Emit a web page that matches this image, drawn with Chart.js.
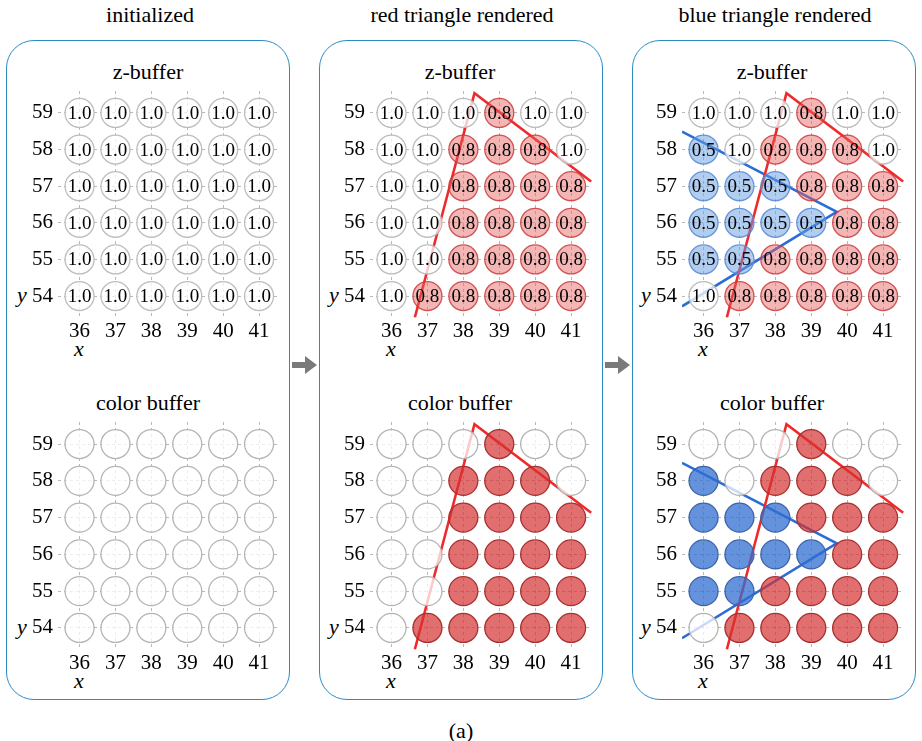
<!DOCTYPE html>
<html>
<head>
<meta charset="utf-8">
<script src="https://cdn.jsdelivr.net/npm/chart.js@4.4.1/dist/chart.umd.min.js"></script>
<style>
body{
    margin:0;
    background:#fff;
    width:922px;
    height:741px;
    overflow:hidden;
    position:relative;
    font-family:"Liberation Serif", "Times New Roman", serif;
    color:#000;
}
.box{
    position:absolute;
    top:40px;
    width:284px;
    height:660px;
    border:1.6px solid #2b8cc4;
    border-radius:28px;
    box-sizing:border-box;
}
.lbl{
    position:absolute;
    transform:translate(-50%,-50%);
    font-size:22px;
    white-space:nowrap;
    line-height:1;
}
.it{ font-style:italic; }
.plot{ position:absolute; }
svg{ position:absolute; left:0; top:0; }
</style>
</head>
<body>

<svg width="922" height="741">
    <polygon points="292,362 305,362 305,356 317,365 305,374 305,368 292,368" fill="#7a7a7a"/>
    <polygon points="605,362 618,362 618,356 630,365 618,374 618,368 605,368" fill="#7a7a7a"/>
</svg>

<script>

/* DATA */

const xVals = [36, 37, 38, 39, 40, 41];
const yVals = [59, 58, 57, 56, 55, 54];

// z-buffer, rows from y=59 down to y=54
const zInit = [
    [1.0, 1.0, 1.0, 1.0, 1.0, 1.0],
    [1.0, 1.0, 1.0, 1.0, 1.0, 1.0],
    [1.0, 1.0, 1.0, 1.0, 1.0, 1.0],
    [1.0, 1.0, 1.0, 1.0, 1.0, 1.0],
    [1.0, 1.0, 1.0, 1.0, 1.0, 1.0],
    [1.0, 1.0, 1.0, 1.0, 1.0, 1.0]
];

const zRed = [
    [1.0, 1.0, 1.0, 0.8, 1.0, 1.0],
    [1.0, 1.0, 0.8, 0.8, 0.8, 1.0],
    [1.0, 1.0, 0.8, 0.8, 0.8, 0.8],
    [1.0, 1.0, 0.8, 0.8, 0.8, 0.8],
    [1.0, 1.0, 0.8, 0.8, 0.8, 0.8],
    [1.0, 0.8, 0.8, 0.8, 0.8, 0.8]
];

const zBlue = [
    [1.0, 1.0, 1.0, 0.8, 1.0, 1.0],
    [0.5, 1.0, 0.8, 0.8, 0.8, 1.0],
    [0.5, 0.5, 0.5, 0.8, 0.8, 0.8],
    [0.5, 0.5, 0.5, 0.5, 0.8, 0.8],
    [0.5, 0.5, 0.8, 0.8, 0.8, 0.8],
    [1.0, 0.8, 0.8, 0.8, 0.8, 0.8]
];

// triangle edges (only the visible part)
const redEdgeX = [36.65, 38.31, 41.56];
const redEdgeY = [53.42, 59.54, 57.13];
const blueEdgeX = [35.40, 39.71, 35.40];
const blueEdgeY = [58.49, 56.30, 53.72];

const panelTitles = ["initialized", "red triangle rendered", "blue triangle rendered"];

/* STYLES */

const xMin = 35.4, xMax = 41.6;
const yMin = 53.4, yMax = 59.6;

const serif = "'Liberation Serif', 'Times New Roman', serif";

const fills = {
    zbuf: {1: "rgba(255,255,255,0.75)", 0.8: "rgba(230,90,90,0.45)", 0.5: "rgba(100,155,225,0.5)"},
    color: {1: "rgba(255,255,255,0.75)", 0.8: "rgba(214,50,50,0.7)", 0.5: "rgba(50,110,210,0.75)"}
};

const borders = {
    zbuf: {1: "#bdbdbd", 0.8: "rgba(200,60,60,0.85)", 0.5: "rgba(90,140,215,0.9)"},
    color: {1: "#b5b5b5", 0.8: "#a83030", 0.5: "#3c64a8"}
};

/* TEXT IN CIRCLES */

const cellText = {
    id: "cellText",
    afterDraw(chart){
        if(!chart.options.plugins.cellText.show) return;
        const ctx = chart.ctx;
        const meta = chart.getDatasetMeta(0);
        ctx.save();
        ctx.font = "19px " + serif;
        ctx.fillStyle = "#000";
        ctx.textAlign = "center";
        ctx.textBaseline = "middle";
        meta.data.forEach((pt, i) => {
            const raw = chart.data.datasets[0].data[i];
            ctx.fillText(raw.z.toFixed(1), pt.x, pt.y + 1);
        });
        ctx.restore();
    }
};

/* ONE SUBPLOT */

function makePlot(p, kind, grid, edges){

    const plotLeft = 57.5 + 312 * p;
    const plotW = 222.6;
    const plotTop = kind === "zbuf" ? 91 : 422;
    const plotH = kind === "zbuf" ? 227 : 228;
    const yAxisW = 50;
    const xAxisH = 28;

    const div = document.createElement("div");
    div.className = "plot";
    div.style.left = (plotLeft - yAxisW) + "px";
    div.style.top = plotTop + "px";
    div.style.width = (plotW + yAxisW) + "px";
    div.style.height = (plotH + xAxisH) + "px";
    const canvas = document.createElement("canvas");
    div.appendChild(canvas);
    document.body.appendChild(div);

    const cells = [];
    yVals.forEach((y, r) => {
        xVals.forEach((x, c) => {
            cells.push({x: x, y: y, z: grid[r][c]});
        });
    });

    const datasets = [{
        type: "scatter",
        data: cells,
        order: 1,
        pointRadius: 14.5,
        pointHoverRadius: 14.5,
        pointBorderWidth: 1.3,
        backgroundColor: ctx => fills[kind][ctx.raw ? ctx.raw.z : 1],
        borderColor: ctx => borders[kind][ctx.raw ? ctx.raw.z : 1]
    }];

    edges.forEach(e => {
        datasets.push({
            type: "line",
            data: e.xs.map((x, i) => ({x: x, y: e.ys[i]})),
            order: 2,
            borderColor: e.color,
            borderWidth: 2.6,
            pointRadius: 0,
            fill: false,
            tension: 0
        });
    });

    const tickFont = {family: serif, size: 21};

    new Chart(canvas, {
        type: "scatter",
        data: {datasets: datasets},
        plugins: [cellText],
        options: {
            responsive: true,
            maintainAspectRatio: false,
            animation: false,
            events: [],
            layout: {padding: 0, autoPadding: false},
            plugins: {
                legend: {display: false},
                tooltip: {enabled: false},
                cellText: {show: kind === "zbuf"}
            },
            scales: {
                x: {
                    type: "linear",
                    min: xMin,
                    max: xMax,
                    z: 1,
                    afterBuildTicks: s => { s.ticks = xVals.map(v => ({value: v})); },
                    afterFit: s => {
                        s.height = xAxisH;
                        s.paddingLeft = 0;
                        s.paddingRight = 0;
                    },
                    ticks: {font: tickFont, color: "#000", padding: 1, maxRotation: 0},
                    grid: {color: "rgba(0,0,0,0.28)", lineWidth: 1, drawTicks: false},
                    border: {display: false, dash: [3, 3]}
                },
                y: {
                    type: "linear",
                    min: yMin,
                    max: yMax,
                    z: 1,
                    afterBuildTicks: s => { s.ticks = yVals.map(v => ({value: v})); },
                    afterFit: s => {
                        s.width = yAxisW;
                        s.paddingTop = 0;
                        s.paddingBottom = 0;
                    },
                    ticks: {font: tickFont, color: "#000", padding: 5},
                    grid: {color: "rgba(0,0,0,0.28)", lineWidth: 1, drawTicks: false},
                    border: {display: false, dash: [3, 3]}
                }
            }
        }
    });

}

/* LABELS AND FRAMES */

function addLabel(text, x, y, cls){
    const d = document.createElement("div");
    d.className = "lbl" + (cls ? " " + cls : "");
    d.style.left = x + "px";
    d.style.top = y + "px";
    d.textContent = text;
    document.body.appendChild(d);
}

const boxLefts = [6, 319, 632];
const titleX = [150, 462, 775];

for(let p = 0; p < 3; p++){

    const box = document.createElement("div");
    box.className = "box";
    box.style.left = boxLefts[p] + "px";
    document.body.appendChild(box);

    addLabel(panelTitles[p], titleX[p], 15);
    addLabel("z-buffer", 148 + 312 * p, 72);
    addLabel("color buffer", 148 + 312 * p, 403);

    addLabel("x", 79 + 312 * p, 349, "it");
    addLabel("x", 79 + 312 * p, 681, "it");
    addLabel("y", 22 + 312 * p, 295, "it");
    addLabel("y", 22 + 312 * p, 627, "it");
}

addLabel("(a)", 461, 731);

/* START */

const redEdge = {xs: redEdgeX, ys: redEdgeY, color: "#f02a2a"};
const blueEdge = {xs: blueEdgeX, ys: blueEdgeY, color: "#2a6cd8"};

makePlot(0, "zbuf", zInit, []);
makePlot(0, "color", zInit, []);
makePlot(1, "zbuf", zRed, [redEdge]);
makePlot(1, "color", zRed, [redEdge]);
makePlot(2, "zbuf", zBlue, [redEdge, blueEdge]);
makePlot(2, "color", zBlue, [redEdge, blueEdge]);

</script>
</body>
</html>
